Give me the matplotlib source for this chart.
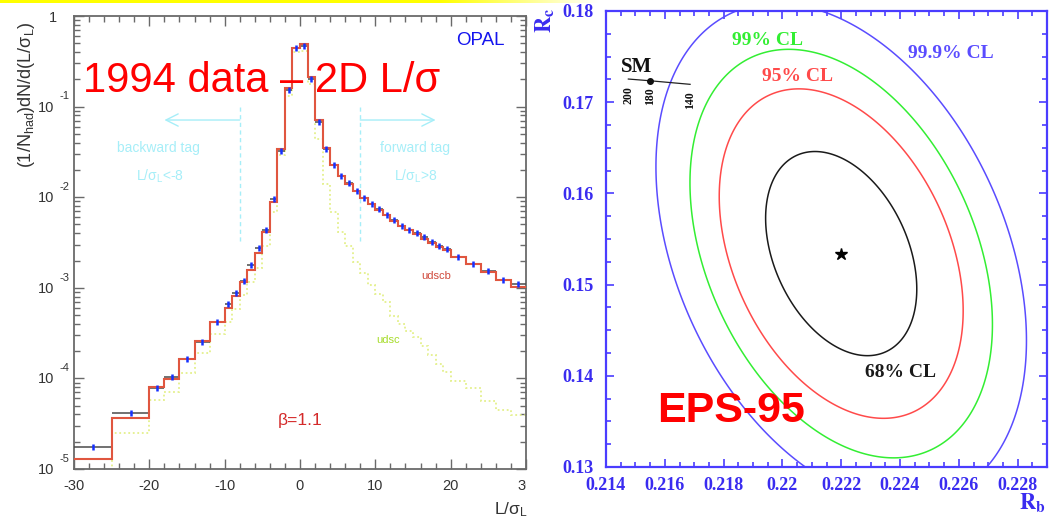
import numpy as np
import matplotlib
matplotlib.use("Agg")
import matplotlib.pyplot as plt
from matplotlib.ticker import MultipleLocator, LogLocator, NullFormatter
from matplotlib.transforms import Bbox, TransformedBbox, blended_transform_factory

plt.rcParams["font.family"] = ["Liberation Sans", "DejaVu Sans"]
plt.rcParams["mathtext.fontset"] = "custom"
plt.rcParams["mathtext.rm"] = "Liberation Sans"
plt.rcParams["mathtext.it"] = "Liberation Sans:italic"
plt.rcParams["mathtext.bf"] = "Liberation Sans:bold"
plt.rcParams["axes.unicode_minus"] = False

# ---------------- L/sigma_L distribution ----------------
bin_edges = [-30, -25, -20, -18, -16, -14, -12, -10, -9, -8, -7, -6, -5, -4, -3, -2, -1,
             0, 1, 2, 3, 4, 5, 6, 7, 8, 9, 10, 11, 12, 13, 14, 15, 16, 17, 18, 19, 20,
             22, 24, 26, 28, 30]

data_1994 = [1.76e-5, 4.2e-5, 7.8e-5, 1.04e-4, 1.62e-4, 2.5e-4, 4.2e-4,
             6.7e-4, 8.8e-4, 1.2e-3, 1.77e-3, 2.75e-3, 4.4e-3, 9.5e-3, 0.0325, 0.154, 0.445,
             0.472, 0.202, 0.067, 0.0337, 0.0225, 0.0171, 0.0142, 0.0116, 0.0098, 0.0084,
             0.0074, 0.0064, 0.0056, 0.0048, 0.0044, 0.0040, 0.0036, 0.0032, 0.0029, 0.0027,
             0.0022, 0.00185, 0.00154, 0.00122, 0.00109]

mc_udscb = [1.28e-5, 3.63e-5, 7.95e-5, 9.8e-5, 1.65e-4, 2.62e-4, 4.2e-4,
            6.0e-4, 8.1e-4, 1.15e-3, 1.58e-3, 2.4e-3, 4.1e-3, 8.8e-3, 0.034, 0.159, 0.448,
            0.488, 0.214, 0.072, 0.0345, 0.0225, 0.0170, 0.0140, 0.0116, 0.0099, 0.0085,
            0.0073, 0.0063, 0.0055, 0.0048, 0.0043, 0.0039, 0.0035, 0.0031, 0.0028, 0.0026,
            0.0022, 0.00181, 0.00150, 0.00121, 0.00102]

mc_udsc = [8.0e-6, 2.5e-5, 5.8e-5, 7.0e-5, 1.16e-4, 1.9e-4, 3.1e-4,
           4.2e-4, 5.8e-4, 8.3e-4, 1.17e-3, 1.66e-3, 2.9e-3, 6.8e-3, 0.029, 0.13, 0.40,
           0.41, 0.176, 0.044, 0.0139, 0.0069, 0.0041, 0.00286, 0.00195, 0.00147, 0.00107,
           8.5e-4, 7.0e-4, 4.9e-4, 4.0e-4, 3.36e-4, 2.88e-4, 2.29e-4, 1.81e-4, 1.44e-4, 1.19e-4,
           9.4e-5, 7.9e-5, 5.7e-5, 4.5e-5, 3.9e-5]

tag_cut = 8
beta_value = 1.1

# ---------------- Rb / Rc fit ----------------
fit_rb, fit_rc = 0.2220, 0.1534
sig_rb, sig_rc = 0.001695, 0.00738
rho_fit = -0.347
cl_chi2 = [2.30, 5.99, 9.21, 13.82]
cl_names = ["68% CL", "95% CL", "99% CL", "99.9% CL"]
cl_colors = ["#1a1a1a", "#ff4a4a", "#33ee33", "#5a4cff"]

sm_mt = [200, 180, 140]
sm_rb = [0.21476, 0.21550, 0.21686]
sm_rc = [0.17254, 0.17235, 0.17196]

W, H = 1049, 521
fig = plt.figure(figsize=(W / 100, H / 100), dpi=100)
fig.patch.set_facecolor("white")


def px_rect(left, top, right, bottom):
    return [left / W, 1 - bottom / H, (right - left) / W, (bottom - top) / H]


# thin yellow band along the top edge, fading out to the right
band = fig.add_axes([0, 1 - 3 / H, 1, 3 / H])
band.axis("off")
xs = np.arange(W)
grad = np.zeros((1, W, 4))
grad[..., 0] = 1.0
grad[..., 1] = 1.0
grad[..., 3] = np.clip((600 - xs) / 160.0, 0, 1)
band.imshow(grad, aspect="auto", extent=(0, 1, 0, 1))

# ======================= left panel =======================
axL = fig.add_axes(px_rect(74, 16, 526, 469))
edges = np.array(bin_edges, dtype=float)
centers = 0.5 * (edges[1:] + edges[:-1])
half_w = 0.5 * np.diff(edges)

axL.stairs(mc_udsc, edges, baseline=None, color="#e4f08c", lw=1.3, ls=(0, (1, 1.5)), zorder=2)
axL.errorbar(centers, data_1994, xerr=half_w, fmt="none", ecolor="#4a4a4a",
             elinewidth=1.1, zorder=3)
axL.stairs(mc_udscb, edges, baseline=None, color="#e0563f", lw=1.5, zorder=4)
axL.plot(centers, data_1994, ls="none", marker="|", ms=5, mew=1.8, color="#1530ff", zorder=5)

axL.set_yscale("log")
axL.set_xlim(-30, 30)
axL.set_ylim(1e-5, 1)

for s in axL.spines.values():
    s.set_color("#6a6a6a")
    s.set_linewidth(1.3)

axL.set_xticks([-30, -20, -10, 0, 10, 20, 30])
axL.xaxis.set_minor_locator(MultipleLocator(2))
axL.yaxis.set_minor_locator(LogLocator(base=10, subs=np.arange(2, 10), numticks=20))
axL.yaxis.set_minor_formatter(NullFormatter())
axL.tick_params(which="both", direction="in", top=True, right=True, color="#6a6a6a", width=1)
axL.tick_params(which="major", length=7)
axL.tick_params(which="minor", length=4)
axL.tick_params(axis="x", labelsize=10.5, pad=7, labelcolor="#333333")
axL.tick_params(axis="y", labelleft=False)

# the last x label is cut at the panel border
last_lbl = axL.get_xticklabels()[-1]
last_lbl.set_clip_box(TransformedBbox(Bbox.from_extents(0, 0, 525.5 / W, 1), fig.transFigure))
last_lbl.set_clip_on(True)

# decade labels: "10" with the exponent set high on its right
ytr = blended_transform_factory(axL.transAxes, axL.transData)
for k in range(-5, 1):
    v = 10.0 ** k
    if k == 0:
        axL.annotate("1", xy=(0, v), xycoords=ytr, xytext=(-12, -1.5), textcoords="offset points",
                     ha="right", va="center", fontsize=10.5, color="#333333", annotation_clip=False)
    else:
        axL.annotate("10", xy=(0, v), xycoords=ytr, xytext=(-14.4, -0.7), textcoords="offset points",
                     ha="right", va="center", fontsize=10.5, color="#333333", annotation_clip=False)
        axL.annotate(str(k), xy=(0, v), xycoords=ytr, xytext=(-10.5, 7.4), textcoords="offset points",
                     ha="left", va="center", fontsize=8, color="#333333", annotation_clip=False)

fig.text(27 / W, 1 - 95 / H, r"(1/N$_{\rm had}$)dN/d(L/$\mathrm{\sigma}_{\rm L}$)", rotation=90,
         ha="center", va="center", fontsize=13, color="#333333")
fig.text(528 / W, 1 - 510 / H, r"L/$\mathrm{\sigma}_{\rm L}$", ha="right", va="center",
         fontsize=12.5, color="#333333")

# forward / backward tag regions
cyan = "#a6eef8"
for sgn in (-1, 1):
    axL.plot([sgn * tag_cut, sgn * tag_cut], [0.1, 3.1e-3], color=cyan, lw=1, ls=(0, (3, 2.5)), zorder=1)
    axL.annotate("", xy=(sgn * 18, 0.0711), xytext=(sgn * tag_cut, 0.0711),
                 arrowprops=dict(arrowstyle="->", color=cyan, lw=1, mutation_scale=22,
                                 shrinkA=0, shrinkB=0))
axL.text(-18.8, 0.0349, "backward tag", color=cyan, fontsize=10, ha="center", va="center")
axL.text(-18.6, 0.0171, r"L/$\mathrm{\sigma}_{\rm L}$<-%d" % tag_cut, color=cyan, fontsize=10,
         ha="center", va="center")
axL.text(15.3, 0.0349, "forward tag", color=cyan, fontsize=10, ha="center", va="center")
axL.text(15.3, 0.0171, r"L/$\mathrm{\sigma}_{\rm L}$>%d" % tag_cut, color=cyan, fontsize=10,
         ha="center", va="center")

axL.text(18.1, 1.35e-3, "udscb", color="#d04a3c", fontsize=8, ha="center", va="center")
axL.text(11.7, 2.65e-4, "udsc", color="#a6dc2a", fontsize=8, ha="center", va="center")
axL.text(0, 3.06e-5, "\u03b2=%.1f" % beta_value, color="#d42a2a", fontsize=12.5,
         ha="center", va="baseline")
axL.text(27.2, 0.479, "OPAL", color="#1414ee", fontsize=13.5, ha="right", va="baseline")

fig.text(83 / W, 1 - 92 / H, "1994 data \u2013 2D L/\u03c3", color="#ff0000", fontsize=30,
         ha="left", va="baseline")

# ======================= right panel =======================
axR = fig.add_axes(px_rect(606, 11, 1047, 467))
blue = "#4a3cff"
label_blue = "#3a2cf0"

rb = np.linspace(0.214, 0.229, 700)
rc = np.linspace(0.13, 0.18, 700)
RB, RC = np.meshgrid(rb, rc)
dx = (RB - fit_rb) / sig_rb
dy = (RC - fit_rc) / sig_rc
chi2 = (dx ** 2 - 2 * rho_fit * dx * dy + dy ** 2) / (1 - rho_fit ** 2)
axR.contour(RB, RC, chi2, levels=cl_chi2, colors=cl_colors, linewidths=1.1)
axR.plot([fit_rb], [fit_rc], marker="*", color="black", ms=9, ls="none")

axR.set_xlim(0.214, 0.229)
axR.set_ylim(0.13, 0.18)
for s in axR.spines.values():
    s.set_color(blue)
    s.set_linewidth(1.6)

serif_bold = dict(fontfamily="Liberation Serif", fontweight="bold")
xt = [0.214, 0.216, 0.218, 0.220, 0.222, 0.224, 0.226, 0.228]
yt = [0.13, 0.14, 0.15, 0.16, 0.17, 0.18]
axR.set_xticks(xt, ["%g" % v for v in xt], **serif_bold)
axR.set_yticks(yt, ["%g" % v for v in yt], **serif_bold)
axR.xaxis.set_minor_locator(MultipleLocator(0.0005))
axR.yaxis.set_minor_locator(MultipleLocator(0.0025))
axR.tick_params(which="both", direction="in", top=True, right=True, color=blue, width=1.2)
axR.tick_params(which="major", length=6)
axR.tick_params(which="minor", length=3.5)
axR.tick_params(axis="x", labelsize=13, labelcolor=label_blue, pad=7)
axR.tick_params(axis="y", labelsize=13, labelcolor=label_blue, pad=9)

fig.text(1046 / W, 1 - 503 / H, r"$\mathbf{R_b}$", ha="right", va="center", fontsize=16,
         color=label_blue, math_fontfamily="stix")
fig.text(545 / W, 1 - 20 / H, r"$\mathbf{R_c}$", rotation=90, ha="center", va="center",
         fontsize=16, color=label_blue, math_fontfamily="stix")

cl_pos = [(0.22403, 0.14031), (0.22050, 0.17287), (0.21948, 0.17682), (0.22573, 0.17539)]
for (x, y), name, col in zip(cl_pos, cl_names, cl_colors):
    axR.text(x, y, name, color=col, fontsize=14, ha="center", va="center", **serif_bold)

# Standard Model prediction versus top mass
axR.plot(sm_rb, sm_rc, color="#222222", lw=0.9)
axR.plot([sm_rb[1]], [sm_rc[1]], marker="o", ms=4, color="#111111", ls="none")
for x, y, m in zip(sm_rb, sm_rc, sm_mt):
    axR.annotate(str(m), xy=(x, y), xytext=(0, -5), textcoords="offset points", rotation=90,
                 ha="center", va="top", fontsize=8.5, color="#111111", **serif_bold)
axR.text(0.21504, 0.17386, "SM", fontsize=15, ha="center", va="center", color="#111111",
         **serif_bold)

axR.text(0.21825, 0.13609, "EPS-95", color="#ff0000", fontsize=31, fontweight="bold",
         ha="center", va="center")

fig.savefig("out.png", dpi=100, facecolor="white")
